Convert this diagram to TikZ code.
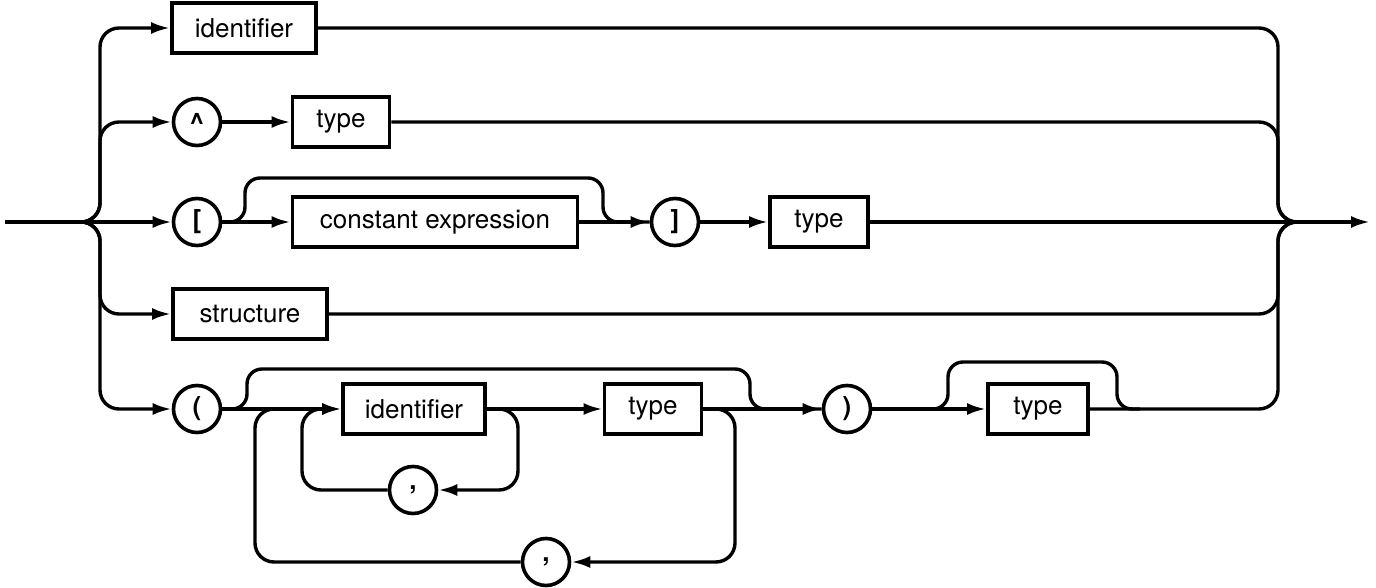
\documentclass[tikz,border=0pt]{standalone}
\usepackage{fontspec}
\setmainfont{TeX Gyre Heros}
\usetikzlibrary{arrows.meta,calc}
\begin{document}
\begin{tikzpicture}[x=1pt,y=-1pt,
  line/.style={line width=3.4pt},
  arr/.style={line, -{Latex[length=19pt,width=12pt]}},
  rc/.style={rounded corners=19pt},
  rcs/.style={rounded corners=15pt},
  box/.style={draw, line width=3.8pt, minimum height=50pt, inner sep=0pt, font=\fontsize{26}{30}\selectfont},
  term/.style={draw, circle, line width=3.6pt, minimum size=47pt, inner sep=0pt, font=\fontsize{26}{30}\selectfont\bfseries}]
\useasboundingbox (0,0) rectangle (1376,588);
% nodes
\node[box, minimum width=144pt] (id1) at (244,28) {identifier};
\node[term] (caret) at (197,122) {\textasciicircum};
\node[box, minimum width=97pt] (type1) at (341,122) {type};
\node[term] (lbrack) at (197,222) {[};
\node[box, minimum width=285pt] (cexpr) at (435,222) {constant expression};
\node[term] (rbrack) at (675,222) {]};
\node[box, minimum width=98pt] (type2) at (819,222) {type};
\node[box, minimum width=154pt] (struct) at (250,314) {structure};
\node[term] (lparen) at (197,409) {(};
\node[box, minimum width=142pt] (id2) at (414,409) {identifier};
\node[box, minimum width=97pt] (type3) at (653,409) {type};
\node[term] (comma1) at (413,490) {,};
\node[term] (comma2) at (546,562) {,};
\node[term] (rparen) at (847,409) {)};
\node[box, minimum width=100pt] (type4) at (1038,409) {type};
% coordinates
\coordinate (start) at (5,222);
\coordinate (fork) at (82,222);
\coordinate (busL) at (100,0);
\coordinate (busR) at (1278,0);
\coordinate (join) at (1296,222);
\coordinate (end) at (1370,222);
% left fork
\draw[arr] (start) -- (lbrack);
\draw[arr,rc] (fork) -- (busL |- fork) -- (busL |- id1) -- (id1);
\draw[arr,rc] (fork) -- (busL |- fork) -- (busL |- caret) -- (caret);
\draw[arr,rc] (fork) -- (busL |- fork) -- (busL |- struct) -- (struct);
\draw[arr,rc] (fork) -- (busL |- fork) -- (busL |- lparen) -- (lparen);
% right join
\draw[line,rc] (id1) -- (busR |- id1) -- (busR |- join) -- (join);
\draw[line,rc] (type1) -- (busR |- type1) -- (busR |- join) -- (join);
\draw[line,rc] (struct) -- (busR |- struct) -- (busR |- join) -- (join);
\draw[line,rc] (type4) -- (busR |- type4) -- (busR |- join) -- (join);
\draw[arr] (type2) -- (end);
% row 2
\draw[arr] (caret) -- (type1);
% row 3
\draw[arr] (lbrack) -- (cexpr);
\draw[arr] (cexpr) -- (rbrack);
\draw[arr] (rbrack) -- (type2);
\coordinate (b1a) at (245,178);
\coordinate (b1b) at (603,178);
\draw[line,rcs] (lbrack) -| (b1a) -- (b1b) |- (rbrack);
% row 5
\draw[arr] (lparen) -- (id2);
\draw[arr] (id2) -- (type3);
\draw[arr] (type3) -- (rparen);
\draw[arr] (rparen) -- (type4);
\coordinate (b2a) at (247,369);
\coordinate (b2b) at (750,369);
\draw[line,rcs] (lparen) -| (b2a) -- (b2b) |- (rparen);
\coordinate (l1) at (518,409);
\draw[arr,rc] (id2) -- (l1) |- (comma1);
\coordinate (l2) at (302,490);
\draw[arr,rc] (comma1) -- (l2) |- (id2);
\coordinate (l3) at (735,409);
\draw[arr,rc] (type3) -- (l3) |- (comma2);
\coordinate (l4) at (255,562);
\coordinate (l5) at (292,409);
\draw[line,rc] (comma2) -- (l4) |- (l5);
\coordinate (b6) at (948,362);
\coordinate (b7) at (1117,362);
\coordinate (b8) at (1140,409);
\draw[line,rcs] (rparen) -| (b6) -- (b7) |- (b8);
\end{tikzpicture}
\end{document}
